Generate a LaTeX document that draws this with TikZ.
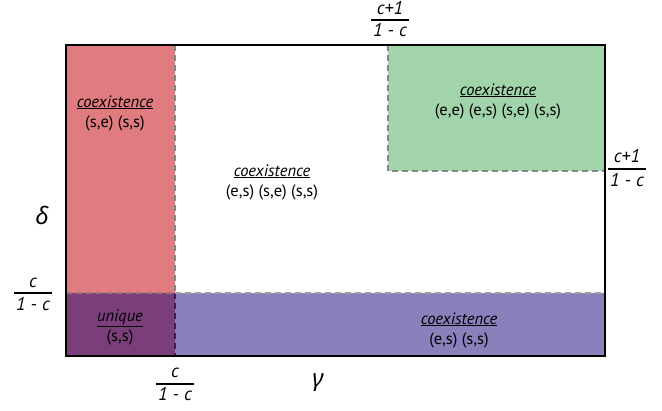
\documentclass[tikz,border=0pt]{standalone}
\usepackage{fontspec}
\setmainfont{PT Sans}
\newfontfamily\greekfont{Noto Sans}
\begin{document}
\begin{tikzpicture}[x=1pt,y=-1pt,
  lbl/.style={font=\fontsize{16.5}{20}\selectfont, align=center, inner sep=0pt},
  frac/.style={font=\fontsize{18.5}{20}\selectfont\itshape, inner sep=0pt, anchor=base},
  fracline/.style={line width=1.3pt},
  dashln/.style={draw=gray!95, line width=2pt, dash pattern=on 6pt off 4pt},
]
\definecolor{cred}{RGB}{224,124,128}
\definecolor{cgreen}{RGB}{161,212,170}
\definecolor{cpurple}{RGB}{138,129,188}
\definecolor{cdark}{RGB}{122,62,122}
\useasboundingbox (0,0) rectangle (662,411);
% regions
\fill[cred] (66,45) rectangle (175,293);
\fill[cdark] (66,293) rectangle (175,356);
\fill[cpurple] (175,293) rectangle (605,356);
\fill[cgreen] (388,45) rectangle (605,171);
% dashed boundaries
\coordinate (rt) at (175,45);
\coordinate (rm) at (175,293);
\coordinate (rb) at (175,356);
\coordinate (hl) at (66,293);
\coordinate (hr) at (605,293);
\coordinate (gt) at (388,45);
\coordinate (gc) at (388,171);
\coordinate (gr) at (605,171);
\draw[dashln] (rt) -- (rm);
\draw[dashln, draw=cdark!55!black!85!blue] (rm) -- (rb);
\draw[dashln, draw=cred!55!black!75] (hl) -- (rm);
\draw[dashln, draw=gray!75] (rm) -- (hr);
\draw[dashln] (gt) -- (gc) -- (gr);
% frame
\draw[line width=2.8pt, black] (66,45) rectangle (605,356);
% labels
\node[lbl] (t1) at (115,113) {\itshape\underline{coexistence}\\(s,e) (s,s)};
\node[lbl] (t2) at (272,182) {\itshape\underline{coexistence}\\(e,s) (s,e) (s,s)};
\node[lbl] (t3) at (498,101) {\itshape\underline{coexistence}\\(e,e) (e,s) (s,e) (s,s)};
\node[lbl] (t4) at (120,327) {\itshape\underline{unique}\\(s,s)};
\node[lbl] (t5) at (459,330) {\itshape\underline{coexistence}\\(e,s) (s,s)};
% axes
\node[font=\fontsize{24}{24}\selectfont\greekfont\itshape, inner sep=0pt] (d) at (42,215) {δ};
\node[font=\fontsize{24}{24}\selectfont\greekfont\itshape, inner sep=0pt] (g) at (318,383) {γ};
% fractions: left (delta threshold)
\node[frac] (f1n) at (33,288) {c};
\node[frac] (f1d) at (33,311) {1 - c};
\draw[fracline] (14,293) -- (52,293);
% bottom (gamma threshold)
\node[frac] (f2n) at (175,378) {c};
\node[frac] (f2d) at (175,401) {1 - c};
\draw[fracline] (156,384) -- (194,384);
% top
\node[frac] (f3n) at (390,15) {c+1};
\node[frac] (f3d) at (390,37) {1 - c};
\draw[fracline] (371,20) -- (409,20);
% right
\node[frac] (f4n) at (627,163) {c+1};
\node[frac] (f4d) at (627,187) {1 - c};
\draw[fracline] (608,169) -- (646,169);
\end{tikzpicture}
\end{document}
